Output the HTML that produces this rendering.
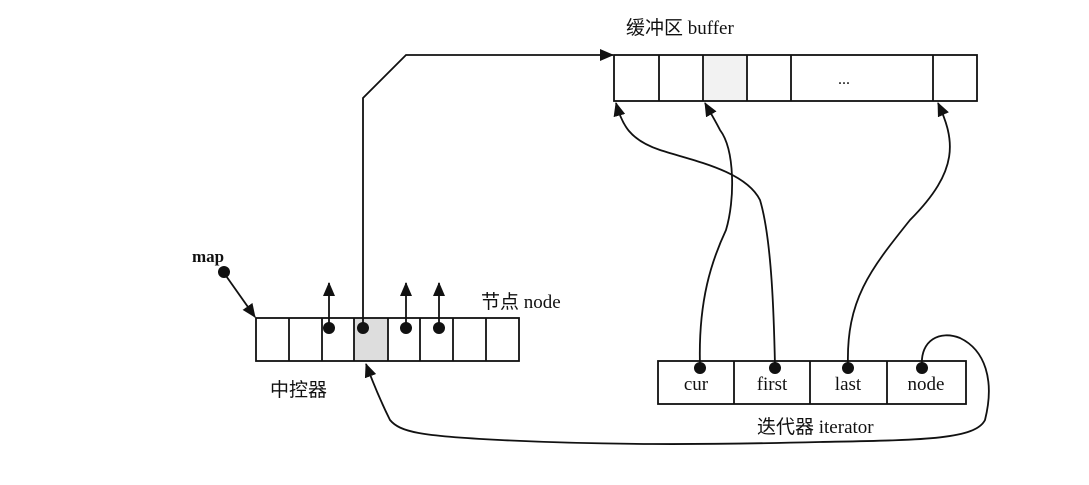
<!DOCTYPE html>
<html><head><meta charset="utf-8"><style>
body{margin:0;background:#fff;}
svg text{font-family:"Liberation Serif","Noto Sans CJK SC",serif;fill:#111;}
</style></head><body>
<svg width="1089" height="480" viewBox="0 0 1089 480" xmlns="http://www.w3.org/2000/svg">
<defs>
<marker id="ah" markerWidth="14" markerHeight="12" refX="13" refY="6" orient="auto" markerUnits="userSpaceOnUse" viewBox="0 0 14 12">
<path d="M0,0 L14,6 L0,12 z" fill="#111"/>
</marker>
</defs>
<g stroke="#111" stroke-width="1.8" fill="none">
<rect x="703" y="55" width="44" height="46" fill="#f2f2f2" stroke="none"/>
<rect x="614" y="55" width="363" height="46"/>
<line x1="659" y1="55" x2="659" y2="101"/>
<line x1="703" y1="55" x2="703" y2="101"/>
<line x1="747" y1="55" x2="747" y2="101"/>
<line x1="791" y1="55" x2="791" y2="101"/>
<line x1="933" y1="55" x2="933" y2="101"/>
<rect x="354" y="318" width="34" height="43" fill="#ddd" stroke="none"/>
<rect x="256" y="318" width="263" height="43"/>
<line x1="289" y1="318" x2="289" y2="361"/>
<line x1="322" y1="318" x2="322" y2="361"/>
<line x1="354" y1="318" x2="354" y2="361"/>
<line x1="388" y1="318" x2="388" y2="361"/>
<line x1="420" y1="318" x2="420" y2="361"/>
<line x1="453" y1="318" x2="453" y2="361"/>
<line x1="486" y1="318" x2="486" y2="361"/>
<rect x="658" y="361" width="308" height="43"/>
<line x1="734" y1="361" x2="734" y2="404"/>
<line x1="810" y1="361" x2="810" y2="404"/>
<line x1="887" y1="361" x2="887" y2="404"/>
<path d="M224,273 L255,317" marker-end="url(#ah)"/>
<path d="M329,327 L329,283" marker-end="url(#ah)"/>
<path d="M406,327 L406,283" marker-end="url(#ah)"/>
<path d="M439,327 L439,283" marker-end="url(#ah)"/>
<path d="M363,327 L363,98 L406,55 L613,55" marker-end="url(#ah)"/>
<path d="M700,366 C698,300 712,260 726,230 C735,200 735,150 720,130 C715,120 710,112 705,103" marker-end="url(#ah)"/>
<path d="M775,366 C774,320 772,240 760,200 C745,170 690,160 660,150 C630,140 622,125 616,103" marker-end="url(#ah)"/>
<path d="M848,366 C846,300 870,270 910,220 C960,170 955,140 938,103" marker-end="url(#ah)"/>
<path d="M922,366 C920,340 940,330 960,338 C985,350 995,380 985,420 C975,440 920,440 820,442 C700,445 600,445 500,440 C420,436 400,432 390,420 C380,400 372,380 366,364" marker-end="url(#ah)"/>
</g>
<g fill="#111">
<circle cx="224" cy="272" r="6"/>
<circle cx="329" cy="328" r="6"/>
<circle cx="363" cy="328" r="6"/>
<circle cx="406" cy="328" r="6"/>
<circle cx="439" cy="328" r="6"/>
<circle cx="700" cy="368" r="6"/>
<circle cx="775" cy="368" r="6"/>
<circle cx="848" cy="368" r="6"/>
<circle cx="922" cy="368" r="6"/>
</g>
<text x="626" y="34" font-size="19">缓冲区 buffer</text>
<text x="838" y="84" font-size="16">...</text>
<text x="192" y="262" font-size="17" font-weight="bold">map</text>
<text x="481" y="308" font-size="19">节点 node</text>
<text x="270" y="396" font-size="19">中控器</text>
<text x="696" y="390" font-size="19" text-anchor="middle">cur</text>
<text x="772" y="390" font-size="19" text-anchor="middle">first</text>
<text x="848" y="390" font-size="19" text-anchor="middle">last</text>
<text x="926" y="390" font-size="19" text-anchor="middle">node</text>
<text x="757" y="433" font-size="19">迭代器 iterator</text>
</svg>
</body></html>
